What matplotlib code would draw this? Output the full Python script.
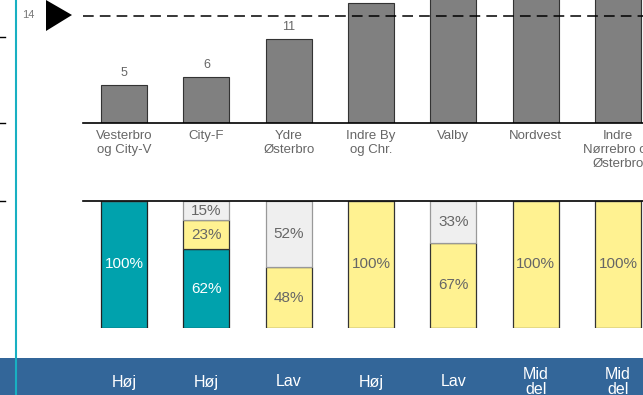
import matplotlib
matplotlib.use("Agg")
import matplotlib.pyplot as plt
from matplotlib.patches import Rectangle, Polygon
from matplotlib.lines import Line2D
from matplotlib.transforms import blended_transform_factory

plt.rcParams['font.family'] = ['Liberation Sans', 'DejaVu Sans']

# områder og værdier
omraader = ["Vesterbro\nog City-V", "City-F", "Ydre\nØsterbro", "Indre By\nog Chr.",
            "Valby", "Nordvest", "Indre\nNørrebro og\nØsterbro"]
antal = [5, 6, 11, 15.7, 19, 21, 20]
maal = 14

# fordeling i procent (stables nedefra: teal, gul, grå)
andel_teal = [100, 62, 0, 0, 0, 0, 0]
andel_gul = [0, 23, 48, 100, 67, 100, 100]
andel_graa = [0, 15, 52, 0, 33, 0, 0]

niveau = ["Høj", "Høj", "Lav", "Høj", "Lav", "Mid\ndel", "Mid\ndel"]

W, H = 643, 395
TEAL = "#00a2ad"
GUL = "#fff291"
GRAA = "#efefef"
TEKST = "#666666"
BLAA = "#336699"

fig = plt.figure(figsize=(W / 100, H / 100), dpi=100)


def fy(py):
    return 1 - py / H


x = list(range(len(omraader)))
spacing = 82.3
x_right = (W - 83) / spacing - 0.5
y_top = 123 / 7.65

# blåt bånd i bunden
fig.patches.append(Rectangle((0, 0), 1, fy(358), transform=fig.transFigure,
                             facecolor=BLAA, edgecolor="none", zorder=-2))

# øverste panel: antal
ax1 = fig.add_axes([83 / W, fy(123), (W - 83) / W, 123 / H])
ax1.bar(x, antal, width=0.56, color="#808080", edgecolor="#333333", linewidth=0.8, zorder=2)
ax1.axhline(maal, color="black", lw=1.1, dashes=(7, 4), zorder=3)
ax1.axhline(0, color="black", lw=1.2, zorder=4, clip_on=False)
ax1.set_xlim(-0.5, x_right)
ax1.set_ylim(0, y_top)
ax1.axis("off")
for xi, v in zip(x, antal):
    if v + 2.5 < y_top:
        ax1.text(xi, v + 0.75, f"{v:g}", ha="center", va="bottom", fontsize=9,
                 color=TEKST, clip_on=False)

tr1 = blended_transform_factory(ax1.transData, fig.transFigure)
for xi, navn in zip(x, omraader):
    ax1.text(xi, fy(130), navn, transform=tr1, ha="center", va="top",
             fontsize=9.5, color=TEKST, linespacing=1.2, clip_on=False)

# nederste panel: fordeling
ax2 = fig.add_axes([83 / W, fy(328), (W - 83) / W, 127 / H])
bund = [0] * len(x)
for vals, farve, kant, tfarve in [(andel_teal, TEAL, "#222222", "white"),
                                  (andel_gul, GUL, "#333333", TEKST),
                                  (andel_graa, GRAA, "#999999", TEKST)]:
    ax2.bar(x, vals, bottom=bund, width=0.56, color=farve, edgecolor=kant,
            linewidth=0.9, zorder=2)
    for xi, v, b in zip(x, vals, bund):
        if v > 0:
            ax2.text(xi, b + v / 2, f"{v}%", ha="center", va="center",
                     fontsize=11, color=tfarve, zorder=5)
    bund = [b + v for b, v in zip(bund, vals)]
ax2.axhline(100, color="black", lw=1.2, zorder=4, clip_on=False)
ax2.set_xlim(-0.5, x_right)
ax2.set_ylim(0, 100)
ax2.axis("off")

tr2 = blended_transform_factory(ax2.transData, fig.transFigure)
for xi, t in zip(x, niveau):
    ax2.text(xi, fy(382), t, transform=tr2, ha="center", va="center",
             fontsize=11.5, color="white", linespacing=1.0, clip_on=False)

# venstre markering
fig.lines.append(Line2D([16 / W, 16 / W], [0, 1], transform=fig.transFigure,
                        color="#18b0c2", lw=1.5, zorder=5))
for py in (37, 123, 201):
    fig.lines.append(Line2D([0, 5 / W], [fy(py), fy(py)], transform=fig.transFigure,
                            color="black", lw=1.0))
fig.patches.append(Polygon([(46 / W, fy(0)), (72 / W, fy(15)), (46 / W, fy(31))],
                           closed=True, transform=fig.transFigure,
                           facecolor="black", edgecolor="none"))
fig.text(28 / W, fy(15), str(maal), ha="center", va="center", fontsize=8, color="#777777")

fig.savefig("out.png", dpi=100)
